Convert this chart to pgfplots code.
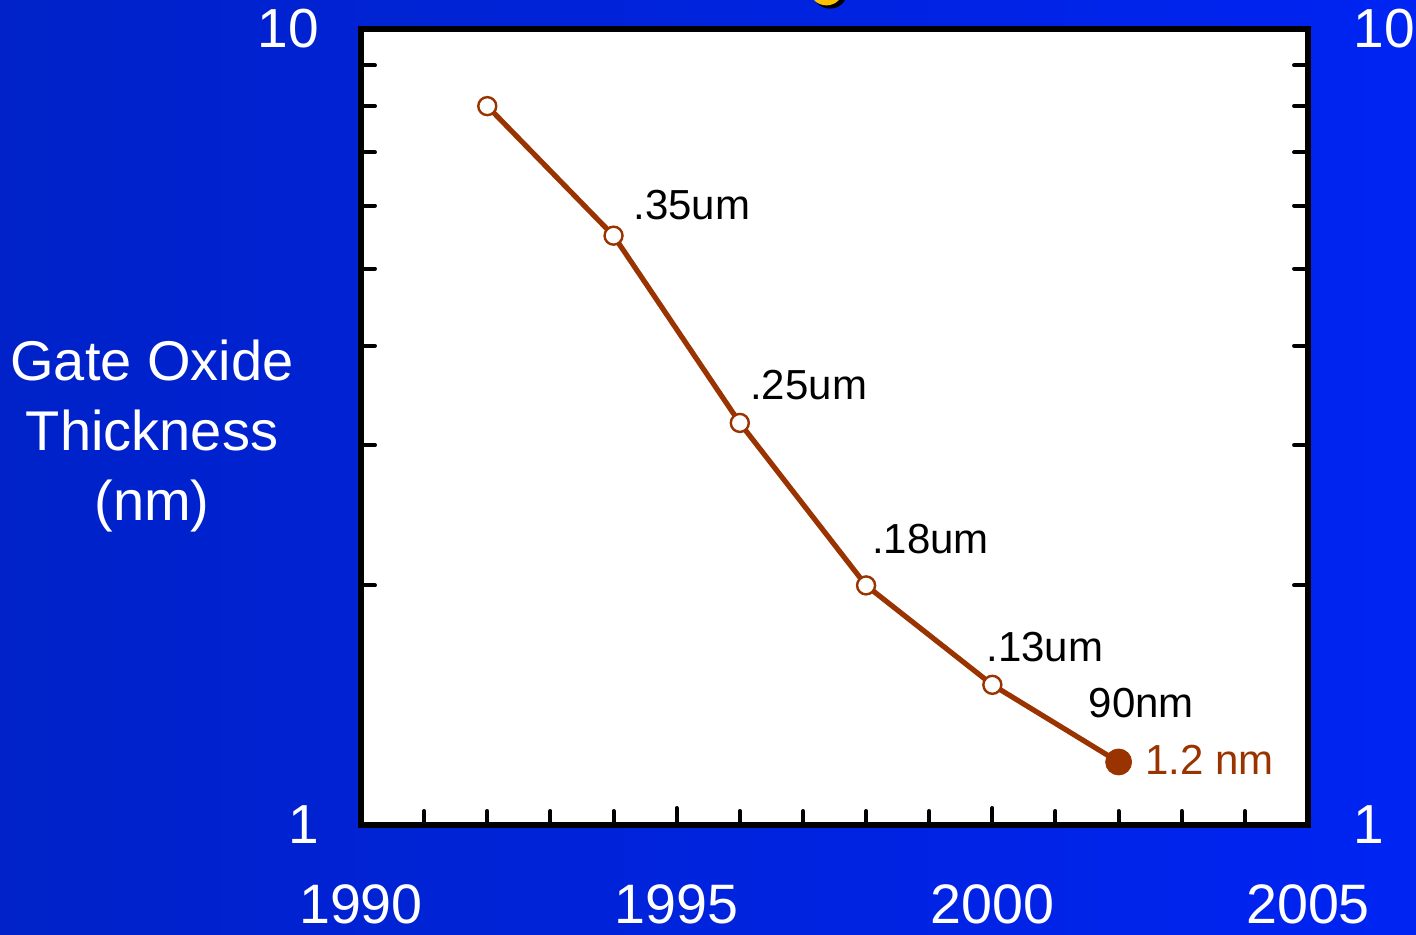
\documentclass[border=0pt]{standalone}
\usepackage{pgfplots}
\pgfplotsset{compat=1.18}
\usepackage{fontspec}
\setmainfont{Liberation Sans}
\definecolor{bgL}{RGB}{0,34,200}
\definecolor{bgR}{RGB}{0,36,242}
\definecolor{oxide}{RGB}{153,51,0}
\definecolor{titley}{RGB}{255,192,0}
\begin{document}
\begin{tikzpicture}
\useasboundingbox (0,0) rectangle (708pt,467.5pt);
\begin{scope}
\clip (0,0) rectangle (708pt,467.5pt);
\shade[left color=bgL, right color=bgR] (0,0) rectangle (708pt,467.5pt);
\fill[black] (415pt,471.2pt) ellipse [x radius=8.5pt, y radius=8pt];
\fill[titley] (413.2pt,472.8pt) ellipse [x radius=8.3pt, y radius=8pt];
\end{scope}
\begin{axis}[
  at={(180.5pt,55pt)}, anchor=south west,
  scale only axis, width=473.5pt, height=398pt,
  xmin=1990, xmax=2005, ymode=log, ymin=1, ymax=10,
  axis background/.style={fill=white},
  axis line style={line width=3pt, line cap=rect},
  tick align=inside,
  xtick={1990,1995,2000,2005},
  xticklabels={1990,1995,2000,2005},
  minor xtick={1991,1992,1993,1994,1996,1997,1998,1999,2001,2002,2003,2004},
  xtick pos=lower,
  ytick={1,10}, yticklabels={1,10},
  minor ytick={2,3,4,5,6,7,8,9},
  ytick pos=both,
  major tick length=8.5pt, minor tick length=7pt,
  every tick/.style={black, line width=2pt, line cap=round},
  xticklabel style={font=\fontsize{27.8}{27.8}\selectfont, text=white, yshift=-26.5pt},
  yticklabel style={font=\fontsize{27.5}{27.5}\selectfont, text=white, xshift=-17.5pt},
  clip=false,
]
\addplot[oxide, line width=2.6pt, mark=*, mark size=4.5pt,
  mark options={fill=white, draw=oxide, line width=1.2pt}]
  coordinates {(1992,8.0) (1994,5.5) (1996,3.2) (1998,2.0) (2000,1.5) (2002,1.2)};
\addplot[oxide, only marks, mark=*, mark size=6.5pt, mark options={fill=oxide, draw=oxide}]
  coordinates {(2002,1.2)};
\node[anchor=west, inner sep=0pt, font=\fontsize{21}{21}\selectfont] at (axis cs:1994.31,6.01) {.35um};
\node[anchor=west, inner sep=0pt, font=\fontsize{21}{21}\selectfont] at (axis cs:1996.16,3.57) {.25um};
\node[anchor=west, inner sep=0pt, font=\fontsize{21}{21}\selectfont] at (axis cs:1998.09,2.288) {.18um};
\node[anchor=west, inner sep=0pt, font=\fontsize{21}{21}\selectfont] at (axis cs:1999.90,1.674) {.13um};
\node[anchor=west, inner sep=0pt, font=\fontsize{21}{21}\selectfont] at (axis cs:2001.52,1.423) {90nm};
\node[anchor=west, inner sep=0pt, font=\fontsize{21}{21}\selectfont, text=oxide] at (axis cs:2002.42,1.207) {1.2 nm};
\node[anchor=west, inner sep=0pt, font=\fontsize{27.5}{27.5}\selectfont, text=white, xshift=22.5pt] at (rel axis cs:1,1) {10};
\node[anchor=west, inner sep=0pt, font=\fontsize{27.5}{27.5}\selectfont, text=white, xshift=22.5pt] at (rel axis cs:1,0) {1};
\end{axis}
\node[align=center, text=white, font=\fontsize{28}{35}\selectfont, inner sep=0pt] at (76pt,249.5pt) {Gate Oxide\\Thickness\\(nm)};
\end{tikzpicture}
\end{document}
